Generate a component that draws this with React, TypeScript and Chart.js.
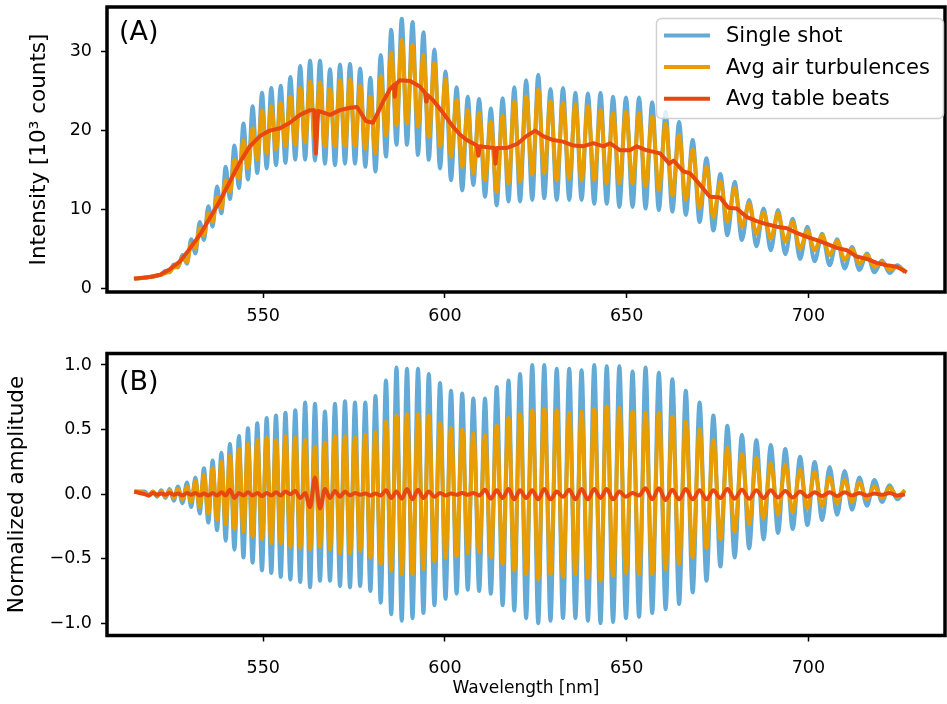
import React, { useEffect, useRef } from 'react';
import { Chart, registerables } from 'chart.js';

Chart.register(...registerables);

const FONT = '"DejaVu Sans", sans-serif';
Chart.defaults.font.family = FONT;
Chart.defaults.color = '#000';

// ---------- labels, colours, ticks ----------
const seriesLabels = ['Single shot', 'Avg air turbulences', 'Avg table beats'];
const seriesColors = ['#63aad6', '#e89e00', '#e8470f'];
const xTicks = [550, 600, 650, 700];
const yTicksA = [0, 10, 20, 30];
const yTicksB = [-1, -0.5, 0, 0.5, 1];

// ---------- fringe extrema positions (nm) ----------
const startNm = 514.5;
const peakNm = [
  517.35, 519.64, 521.92, 524.24, 526.52, 529.0, 531.34, 533.68, 536.07, 538.49,
  540.83, 543.31, 545.79, 548.35, 550.94, 553.5, 556.11, 558.81, 561.53, 564.23,
  566.98, 569.74, 572.49, 575.24, 578.08, 580.88, 583.77, 586.66, 589.55, 592.58,
  595.55, 598.64, 601.67, 604.75, 607.8, 611.02, 614.24, 617.49, 620.66, 624.02,
  627.32, 630.76, 634.2, 637.59, 641.08, 644.52, 647.99, 651.62, 655.2, 658.86,
  662.58, 666.27, 670.07, 673.86, 677.72, 681.71, 685.7, 689.66, 693.65, 697.73,
  701.72, 705.85, 709.98, 714.05, 718.18, 722.36, 726.57,
];
const troughNm = [
  518.5, 520.78, 523.08, 525.38, 527.76, 530.17, 532.51, 534.88, 537.28, 539.66,
  542.07, 544.55, 547.07, 549.65, 552.22, 554.81, 557.46, 560.17, 562.88, 565.61,
  568.36, 571.12, 573.87, 576.66, 579.48, 582.33, 585.22, 588.11, 591.07, 594.07,
  597.1, 600.16, 603.21, 606.28, 609.41, 612.63, 615.87, 619.08, 622.34, 625.67,
  629.04, 632.48, 635.9, 639.34, 642.8, 646.26, 649.81, 653.41, 657.03, 660.72,
  664.43, 668.17, 671.97, 675.79, 679.72, 683.71, 687.68, 691.66, 695.69, 699.73,
  703.79, 707.92, 712.02, 716.12, 720.27, 724.47,
];

// ---------- panel (A): intensity, 10^3 counts ----------
const startA = 1.2;
const blueA_atPeakNm = [
  1.3, 1.45, 1.7, 2.0, 2.6, 3.1, 4.4, 6.1, 7.8, 9.5,
  11.3, 12.7, 13.8, 14.6, 15.2, 15.6, 15.9, 16.3, 16.3, 16.2,
  15.8, 15.6, 15.8, 15.8, 15.4, 14.8, 16.7, 18.2, 18.2, 16.9,
  16.3, 15.2, 13.7, 12.4, 13.1, 11.6, 10.5, 11.0, 11.0, 11.2,
  11.4, 11.2, 11.2, 11.2, 10.7, 10.7, 10.3, 10.3, 10.1, 9.9,
  9.7, 9.3, 8.4, 7.3, 6.7, 6.1, 5.3, 4.8, 4.3, 3.7,
  3.4, 2.9, 2.5, 2.3, 2.0, 1.9, 2.0,
];
const blueA_atTroughNm = [
  1.4, 1.6, 2.2, 3.0, 4.2, 6.2, 8.4, 10.4, 12.9, 15.4,
  18.1, 20.9, 23.1, 24.8, 25.4, 25.7, 26.8, 28.2, 28.9, 28.9,
  27.8, 28.4, 28.5, 27.9, 26.7, 29.6, 32.8, 34.2, 33.8, 32.5,
  30.3, 27.5, 25.5, 24.3, 24.0, 22.8, 24.1, 25.5, 26.4, 27.1,
  25.3, 25.4, 24.8, 24.7, 24.8, 24.3, 24.2, 24.2, 23.6, 22.4,
  21.1, 18.8, 16.5, 14.5, 13.5, 11.2, 10.1, 9.9, 8.8, 7.8,
  6.9, 6.2, 5.2, 4.4, 3.5, 2.9,
];
const orangeA_atPeakNm = [
  1.3, 1.45, 1.7, 2.1, 2.7, 3.3, 5.0, 6.7, 8.4, 10.1,
  12.2, 13.9, 15.2, 16.3, 17.1, 17.6, 18.0, 18.2, 18.5, 18.8,
  18.0, 18.0, 18.0, 18.0, 17.7, 17.1, 19.4, 20.7, 20.9, 20.5,
  19.2, 18.0, 16.7, 15.4, 14.6, 13.7, 12.2, 13.3, 13.5, 14.4,
  14.6, 13.7, 13.9, 13.7, 13.7, 13.3, 13.3, 13.3, 12.9, 12.4,
  11.8, 11.2, 10.1, 9.0, 8.4, 7.8, 6.9, 6.3, 5.9, 5.0,
  4.8, 4.2, 3.6, 3.1, 2.7, 2.3, 2.2,
];
const orangeA_atTroughNm = [
  1.4, 1.55, 1.9, 2.6, 3.9, 5.6, 7.6, 9.5, 11.6, 13.7,
  16.3, 18.8, 20.3, 22.6, 23.1, 23.5, 24.3, 25.4, 26.2, 26.1,
  25.3, 26.4, 26.5, 25.7, 24.3, 26.9, 29.9, 31.5, 30.9, 29.6,
  28.6, 26.5, 23.9, 22.6, 22.2, 21.1, 21.9, 23.7, 24.3, 25.2,
  23.7, 23.5, 23.3, 23.1, 22.6, 22.2, 22.4, 22.2, 21.8, 20.9,
  19.4, 17.6, 15.4, 13.5, 12.7, 10.7, 9.6, 9.5, 8.4, 7.3,
  6.7, 6.0, 5.0, 4.2, 3.3, 2.7,
];
const redA_nm = [
  514.4, 518.8, 521.6, 524.3, 527.1, 529.8, 532.6, 535.3, 538.1, 540.8,
  543.6, 546.3, 549.1, 551.8, 554.6, 557.3, 560.1, 562.9, 564.0, 564.5,
  565.1, 568.4, 571.1, 573.9, 575.8, 578.3, 580.2, 582.9, 584.9, 586.0,
  586.2, 586.5, 587.6, 590.4, 593.1, 594.5, 594.8, 595.0, 596.7, 599.4,
  602.2, 604.1, 606.0, 608.8, 609.2, 609.6, 611.6, 613.5, 613.9, 614.3,
  617.1, 619.9, 622.1, 624.8, 627.0, 629.8, 632.5, 635.3, 638.0, 640.8,
  643.6, 645.4, 648.2, 650.9, 652.8, 655.5, 657.5, 659.2, 661.0, 661.7,
  662.9, 665.6, 667.4, 670.2, 672.9, 675.7, 678.0, 680.3, 683.1, 685.8,
  688.6, 691.3, 694.1, 696.8, 699.6, 702.3, 705.1, 707.8, 710.6, 713.3,
  716.1, 718.8, 721.6, 724.3, 727.1,
];
const redA_val = [
  1.2, 1.4, 1.7, 2.4, 3.4, 5.0, 6.8, 8.9, 11.1, 13.5,
  16.0, 18.0, 19.3, 20.0, 20.3, 21.0, 22.0, 22.6, 22.6, 17.1,
  22.5, 22.0, 22.6, 22.9, 23.0, 21.2, 21.0, 23.6, 25.3, 25.8,
  24.3, 25.9, 26.4, 26.3, 25.6, 24.8, 23.7, 24.6, 23.9, 22.3,
  20.5, 19.5, 18.8, 18.1, 16.8, 18.0, 17.9, 17.8, 15.8, 17.8,
  17.8, 18.3, 19.2, 20.0, 19.3, 18.8, 18.6, 18.1, 18.0, 18.4,
  18.0, 18.4, 17.5, 17.5, 18.0, 17.5, 17.3, 17.1, 16.2, 15.8,
  16.2, 14.8, 14.6, 13.1, 11.6, 11.5, 10.2, 10.1, 9.0, 8.5,
  8.1, 7.8, 7.6, 7.0, 6.5, 6.1, 5.6, 5.1, 4.8, 4.0,
  3.7, 3.2, 2.9, 2.7, 2.0,
];

// ---------- panel (B): normalized amplitude ----------
const startB = 0.02;
const blueB_peak = [
  0.02, 0.02, 0.03, 0.04, 0.06, 0.09, 0.13, 0.2, 0.26, 0.32,
  0.39, 0.45, 0.51, 0.55, 0.59, 0.61, 0.63, 0.65, 0.71, 0.7,
  0.64, 0.7, 0.72, 0.71, 0.71, 0.76, 0.88, 0.98, 0.97, 0.97,
  0.93, 0.86, 0.8, 0.78, 0.74, 0.74, 0.83, 0.88, 0.93, 1.0,
  1.0, 0.97, 0.97, 0.96, 1.0, 0.99, 0.99, 0.95, 0.98, 0.94,
  0.89, 0.8, 0.71, 0.61, 0.53, 0.46, 0.42, 0.38, 0.35, 0.29,
  0.25, 0.21, 0.18, 0.13, 0.11, 0.07, 0.03,
];
const blueB_trough = [
  -0.01, -0.02, -0.03, -0.05, -0.07, -0.1, -0.15, -0.22, -0.28, -0.36,
  -0.43, -0.49, -0.53, -0.59, -0.61, -0.64, -0.66, -0.68, -0.72, -0.67,
  -0.67, -0.71, -0.72, -0.71, -0.75, -0.84, -0.93, -0.98, -0.96, -0.92,
  -0.86, -0.81, -0.77, -0.74, -0.75, -0.77, -0.86, -0.9, -0.96, -1.0,
  -0.98, -0.96, -0.96, -0.98, -1.0, -0.99, -0.96, -0.95, -0.92, -0.89,
  -0.85, -0.76, -0.67, -0.56, -0.49, -0.42, -0.35, -0.3, -0.27, -0.24,
  -0.2, -0.16, -0.12, -0.09, -0.06, -0.04,
];
const orangeB_peak = [
  0.01, 0.02, 0.02, 0.03, 0.04, 0.06, 0.1, 0.15, 0.2, 0.25,
  0.3, 0.35, 0.39, 0.42, 0.44, 0.42, 0.45, 0.44, 0.42, 0.37,
  0.4, 0.45, 0.45, 0.44, 0.46, 0.48, 0.56, 0.61, 0.62, 0.62,
  0.61, 0.55, 0.51, 0.5, 0.47, 0.46, 0.53, 0.59, 0.62, 0.65,
  0.66, 0.65, 0.63, 0.64, 0.66, 0.68, 0.67, 0.64, 0.63, 0.63,
  0.6, 0.56, 0.5, 0.42, 0.36, 0.31, 0.28, 0.24, 0.23, 0.19,
  0.17, 0.13, 0.11, 0.09, 0.06, 0.05, 0.03,
];
const orangeB_trough = [
  -0.01, -0.01, -0.02, -0.03, -0.04, -0.06, -0.1, -0.15, -0.2, -0.23,
  -0.27, -0.29, -0.33, -0.35, -0.38, -0.38, -0.41, -0.42, -0.43, -0.41,
  -0.43, -0.46, -0.46, -0.44, -0.49, -0.54, -0.59, -0.62, -0.62, -0.58,
  -0.52, -0.49, -0.48, -0.46, -0.45, -0.49, -0.54, -0.59, -0.62, -0.66,
  -0.62, -0.64, -0.62, -0.65, -0.67, -0.63, -0.61, -0.62, -0.62, -0.58,
  -0.54, -0.49, -0.42, -0.35, -0.29, -0.23, -0.19, -0.16, -0.14, -0.11,
  -0.09, -0.07, -0.06, -0.04, -0.03, -0.02,
];
const redB_peak = [
  0.0, 0.01, 0.005, 0.01, 0.005, 0.01, 0.01, 0.005, 0.01, 0.015,
  0.035, 0.01, 0.015, 0.01, 0.01, 0.015, 0.02, 0.025, 0.01, 0.13,
  0.04, 0.025, 0.02, 0.01, 0.005, 0.005, 0.03, 0.02, 0.04, 0.035,
  0.02, 0.01, 0.005, 0.01, 0.01, 0.035, 0.03, 0.04, 0.03, 0.03,
  0.04, 0.02, 0.035, 0.04, 0.04, 0.04, 0.02, 0.01, 0.045, 0.045,
  0.035, 0.04, 0.03, 0.03, 0.04, 0.035, 0.03, 0.03, 0.025, 0.02,
  0.015, 0.015, 0.015, 0.01, 0.005, 0.01, 0.0,
];
const redB_trough = [
  -0.01, -0.005, -0.005, -0.005, -0.01, -0.005, -0.01, -0.01, -0.01, -0.01,
  -0.03, -0.01, -0.01, -0.015, -0.01, -0.01, 0.0, -0.03, -0.1, -0.11,
  -0.03, -0.02, -0.01, -0.005, -0.01, -0.01, -0.03, -0.035, -0.04, -0.03,
  -0.02, -0.01, -0.005, -0.005, -0.01, -0.035, -0.03, -0.04, -0.03, -0.04,
  -0.04, -0.02, -0.04, -0.04, -0.03, -0.04, -0.02, -0.01, -0.04, -0.045,
  -0.04, -0.04, -0.04, -0.03, -0.035, -0.035, -0.03, -0.025, -0.025, -0.02,
  -0.015, -0.015, -0.01, -0.01, -0.005, -0.01,
];

// ---------- helpers ----------
function interleave(start: number, atPeak: number[], atTrough: number[]) {
  const out = [start];
  for (let i = 0; i < atPeak.length; i++) {
    out.push(atPeak[i]);
    if (i < atTrough.length) out.push(atTrough[i]);
  }
  return out;
}
const toPoints = (xs: number[], ys: number[]) => xs.map((x, i) => ({ x, y: ys[i] }));

const framePlugin = {
  id: 'frame',
  afterDraw(chart: any, _args: any, opts: any) {
    const { ctx, chartArea } = chart;
    const { left, top, right, bottom } = chartArea;
    ctx.save();
    ctx.strokeStyle = '#000';
    ctx.lineWidth = 3.5;
    ctx.strokeRect(left, top, right - left, bottom - top);
    ctx.fillStyle = '#000';
    ctx.font = '27px ' + FONT;
    ctx.textAlign = 'left';
    ctx.textBaseline = 'middle';
    ctx.fillText(opts.label, left + 12, top + opts.labelDy);
    ctx.restore();
  },
};

const boxLegendPlugin = {
  id: 'boxLegend',
  afterDraw(chart: any) {
    const { ctx, chartArea } = chart;
    const x0 = chartArea.right - 288.5;
    const y0 = chartArea.top + 11.5;
    ctx.save();
    ctx.beginPath();
    ctx.roundRect(x0, y0, 287, 100, 5);
    ctx.fillStyle = 'rgba(255,255,255,0.8)';
    ctx.fill();
    ctx.strokeStyle = 'rgba(204,204,204,0.9)';
    ctx.lineWidth = 1.5;
    ctx.stroke();
    ctx.font = '21px ' + FONT;
    ctx.textAlign = 'left';
    ctx.textBaseline = 'middle';
    seriesLabels.forEach((label, k) => {
      const y = y0 + 17 + k * 31.6;
      ctx.beginPath();
      ctx.moveTo(x0 + 7.5, y);
      ctx.lineTo(x0 + 53.5, y);
      ctx.strokeStyle = seriesColors[k];
      ctx.lineWidth = 4;
      ctx.stroke();
      ctx.fillStyle = '#000';
      ctx.fillText(label, x0 + 69.5, y + 1);
    });
    ctx.restore();
  },
};

const tickGrid = { drawOnChartArea: false, drawTicks: true, tickLength: 6, tickWidth: 1.5, tickColor: '#000' };
const TICK_FONT = { size: 17.5 };
const YTITLE_FONT = { size: 21.5 };

function lineDataset(k: number, data: any[], smooth: boolean) {
  return {
    label: seriesLabels[k],
    data,
    borderColor: seriesColors[k],
    backgroundColor: seriesColors[k],
    borderWidth: 4,
    pointRadius: 0,
    borderJoinStyle: 'round',
    fill: false,
    order: 3 - k,
    cubicInterpolationMode: smooth ? 'monotone' : 'default',
    tension: 0,
  };
}

function fitX(height: number) {
  return (s: any) => {
    s.height = height;
    s.paddingLeft = 0;
    s.paddingRight = 0;
    s.paddingTop = 0;
    s.paddingBottom = 0;
  };
}
function fitY(s: any) {
  s.width = 107;
  s.paddingTop = 0;
  s.paddingBottom = 0;
  s.paddingLeft = 0;
  s.paddingRight = 0;
}

function buildConfigA(): any {
  const xs = interleave(startNm, peakNm, troughNm);
  return {
    type: 'line',
    data: {
      datasets: [
        lineDataset(0, toPoints(xs, interleave(startA, blueA_atPeakNm, blueA_atTroughNm)), true),
        lineDataset(1, toPoints(xs, interleave(startA, orangeA_atPeakNm, orangeA_atTroughNm)), true),
        lineDataset(2, toPoints(redA_nm, redA_val), false),
      ],
    },
    options: {
      responsive: false,
      animation: false,
      devicePixelRatio: 1,
      events: [],
      layout: { padding: { top: 7, right: 2, left: 0, bottom: 0 } },
      plugins: {
        legend: { display: false },
        tooltip: { enabled: false },
        frame: { label: '(A)', labelDy: 26 },
      },
      scales: {
        x: {
          type: 'linear', min: 507, max: 737.6,
          afterBuildTicks: (s: any) => { s.ticks = xTicks.map((v) => ({ value: v })); },
          ticks: { color: '#000', font: TICK_FONT, padding: 8, maxRotation: 0, autoSkip: false, callback: (v: any) => String(v) },
          grid: tickGrid,
          border: { display: false },
          afterFit: fitX(38),
        },
        y: {
          type: 'linear', min: -0.5, max: 35.7,
          afterBuildTicks: (s: any) => { s.ticks = yTicksA.map((v) => ({ value: v })); },
          ticks: { color: '#000', font: TICK_FONT, padding: 9, autoSkip: false, callback: (v: any) => String(v) },
          grid: tickGrid,
          border: { display: false },
          title: { display: true, text: 'Intensity [10³ counts]', color: '#000', font: YTITLE_FONT, padding: { top: 27, bottom: 0 } },
          afterFit: fitY,
        },
      },
    },
    plugins: [framePlugin, boxLegendPlugin],
  };
}

function buildConfigB(): any {
  const xs = interleave(startNm, peakNm, troughNm);
  return {
    type: 'line',
    data: {
      datasets: [
        lineDataset(0, toPoints(xs, interleave(startB, blueB_peak, blueB_trough)), true),
        lineDataset(1, toPoints(xs, interleave(startB, orangeB_peak, orangeB_trough)), true),
        lineDataset(2, toPoints(xs, interleave(startB, redB_peak, redB_trough)), true),
      ],
    },
    options: {
      responsive: false,
      animation: false,
      devicePixelRatio: 1,
      events: [],
      layout: { padding: { top: 23.5, right: 2, left: 0, bottom: 0 } },
      plugins: {
        legend: { display: false },
        tooltip: { enabled: false },
        frame: { label: '(B)', labelDy: 29 },
      },
      scales: {
        x: {
          type: 'linear', min: 507, max: 737.6,
          afterBuildTicks: (s: any) => { s.ticks = xTicks.map((v) => ({ value: v })); },
          ticks: { color: '#000', font: TICK_FONT, padding: 16, maxRotation: 0, autoSkip: false, callback: (v: any) => String(v) },
          grid: tickGrid,
          border: { display: false },
          title: { display: true, text: 'Wavelength [nm]', color: '#000', font: { size: 17 }, padding: { top: 0, bottom: 5 } },
          afterFit: fitX(68.5),
        },
        y: {
          type: 'linear', min: -1.094, max: 1.089,
          afterBuildTicks: (s: any) => { s.ticks = yTicksB.map((v) => ({ value: v })); },
          ticks: {
            color: '#000', font: TICK_FONT, padding: 9, autoSkip: false,
            callback: (v: any) => (v < 0 ? '\u2212' : '') + Math.abs(v).toFixed(1),
          },
          grid: tickGrid,
          border: { display: false },
          title: { display: true, text: 'Normalized amplitude', color: '#000', font: YTITLE_FONT, padding: { top: 5, bottom: 0 } },
          afterFit: fitY,
        },
      },
    },
    plugins: [framePlugin],
  };
}

export default function App() {
  const refA = useRef<HTMLCanvasElement>(null);
  const refB = useRef<HTMLCanvasElement>(null);
  useEffect(() => {
    const a = new Chart(refA.current as HTMLCanvasElement, buildConfigA());
    const b = new Chart(refB.current as HTMLCanvasElement, buildConfigB());
    return () => {
      a.destroy();
      b.destroy();
    };
  }, []);
  return (
    <div style={{ position: 'absolute', left: 0, top: 0, width: 947, height: 704, background: '#fff', overflow: 'hidden' }}>
      <canvas ref={refA} width={947} height={330} style={{ position: 'absolute', left: 0, top: 0, width: 947, height: 330 }} />
      <canvas ref={refB} width={947} height={374} style={{ position: 'absolute', left: 0, top: 330, width: 947, height: 374 }} />
    </div>
  );
}
